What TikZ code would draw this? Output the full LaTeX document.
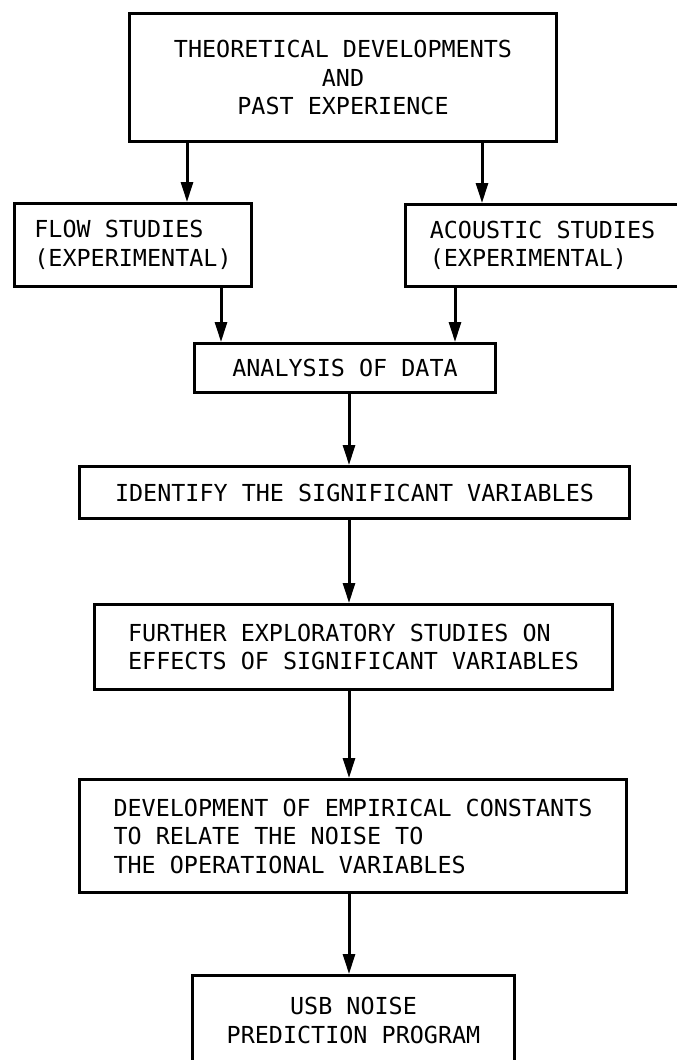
\documentclass[tikz,border=0pt]{standalone}
\usepackage{fontspec}
\newfontfamily\leroy{DejaVu Sans Mono}
\usetikzlibrary{arrows.meta}
\tikzstyle{process} = [
    rectangle,
    draw=black,
    line width=3pt,
    anchor=north west,
    font=\leroy\fontsize{23.4}{28.5}\selectfont
]
\tikzstyle{arrow} = [line width=3pt,-{Triangle[length=20pt,width=12pt]}]

\begin{document}
\begin{tikzpicture}[x=1pt,y=-1pt]
\useasboundingbox (0,0) rectangle (677,1060);

\node (theory) [process, minimum width=427pt, minimum height=128pt, align=center] at (128,12)
{THEORETICAL DEVELOPMENTS\\AND\\PAST EXPERIENCE};

\node (flow) [process, minimum width=237pt, minimum height=83pt, align=left] at (13,202)
{FLOW STUDIES\\(EXPERIMENTAL)};

% right side runs off the page
\node (acoustic) [process, minimum width=274pt, minimum height=82pt, align=left] at (404,203)
{ACOUSTIC STUDIES\\(EXPERIMENTAL)};

\node (analysis) [process, minimum width=301pt, minimum height=49pt] at (193,342)
{ANALYSIS OF DATA};

\node (ident) [process, minimum width=550pt, minimum height=52pt] at (78,465)
{IDENTIFY THE SIGNIFICANT VARIABLES};

\node (further) [process, minimum width=518pt, minimum height=85pt, align=left] at (93,603)
{FURTHER EXPLORATORY STUDIES ON\\EFFECTS OF SIGNIFICANT VARIABLES};

\node (develop) [process, minimum width=547pt, minimum height=113pt, align=left] at (78,778)
{DEVELOPMENT OF EMPIRICAL CONSTANTS\\TO RELATE THE NOISE TO\\THE OPERATIONAL VARIABLES};

\node (usb) [process, minimum width=322pt, minimum height=90pt, align=center] at (191,974)
{USB NOISE\\PREDICTION PROGRAM};

% centre line of the lower chain
\coordinate (spine) at (349,0);

\draw [arrow] ([xshift=59pt]theory.south west) -- ([xshift=59pt]theory.south west |- flow.north);
\draw [arrow] ([xshift=-76pt]theory.south east) -- ([xshift=-76pt]theory.south east |- acoustic.north);
\draw [arrow] ([xshift=-32pt]flow.south east) -- ([xshift=-32pt]flow.south east |- analysis.north);
\draw [arrow] ([xshift=51pt]acoustic.south west) -- ([xshift=51pt]acoustic.south west |- analysis.north);
\draw [arrow] (analysis.south -| spine) -- (ident.north -| spine);
\draw [arrow] (ident.south -| spine) -- (further.north -| spine);
\draw [arrow] (further.south -| spine) -- (develop.north -| spine);
\draw [arrow] (develop.south -| spine) -- (usb.north -| spine);

\end{tikzpicture}
\end{document}
